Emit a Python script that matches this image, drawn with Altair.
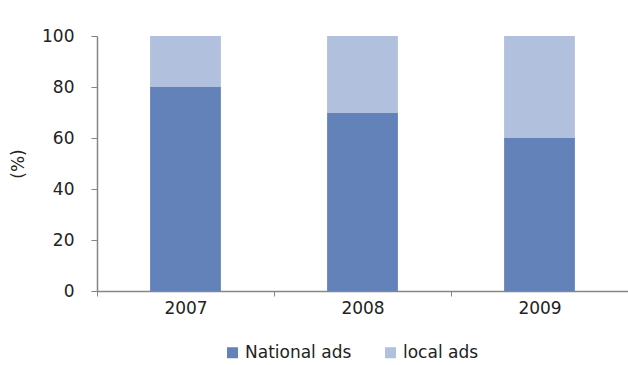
import altair as alt
import pandas as pd

years = ["2007", "2008", "2009"]
national = [80, 70, 60]
local = [20, 30, 40]
series = ["National ads", "local ads"]
colors = ["#6482BA", "#B0C0DD"]

rows = []
for i, y in enumerate(years):
    rows.append({"year": y, "series": series[0], "value": national[i], "ord": 0})
    rows.append({"year": y, "series": series[1], "value": local[i], "ord": 1})
df = pd.DataFrame(rows)

FONT = "DejaVu Sans"
STEP_HALF = 88.5

chart = alt.Chart(df).mark_bar().encode(
    x=alt.X("year:N", title=None,
            scale=alt.Scale(paddingInner=0.6, paddingOuter=0.3),
            axis=alt.Axis(labelAngle=0, tickOffset=-STEP_HALF, labelOffset=STEP_HALF,
                          tickSize=5, labelPadding=4, domainColor="#868686",
                          tickColor="#868686", domainWidth=1.5, labelFontSize=17,
                          labelColor="#222222")),
    y=alt.Y("value:Q", stack="zero", title="(%)",
            scale=alt.Scale(domain=[0, 100]),
            axis=alt.Axis(values=[0, 20, 40, 60, 80, 100], grid=False, tickSize=6,
                          labelPadding=17, domainColor="#868686", tickColor="#868686",
                          domainWidth=1.5, labelFontSize=17, labelColor="#222222",
                          titleFontSize=17, titleFontWeight="normal", titleColor="#222222",
                          titlePadding=14)),
    color=alt.Color("series:N", scale=alt.Scale(domain=series, range=colors),
                    legend=alt.Legend(title=None, orient="none", direction="horizontal",
                                      legendX=127, legendY=308, symbolType="square",
                                      symbolSize=121, symbolStrokeWidth=0,
                                      labelFontSize=17, labelColor="#222222",
                                      labelOffset=4, columnPadding=30, padding=0)),
    order=alt.Order("ord:Q", sort="ascending"),
).properties(
    width=531, height=255,
    autosize=alt.AutoSizeParams(type="none"),
    padding={"left": 97, "top": 36, "right": 0, "bottom": 74},
).configure(font=FONT).configure_view(stroke=None)

chart.save("out.html", embed_options={"renderer": "svg", "actions": False})
